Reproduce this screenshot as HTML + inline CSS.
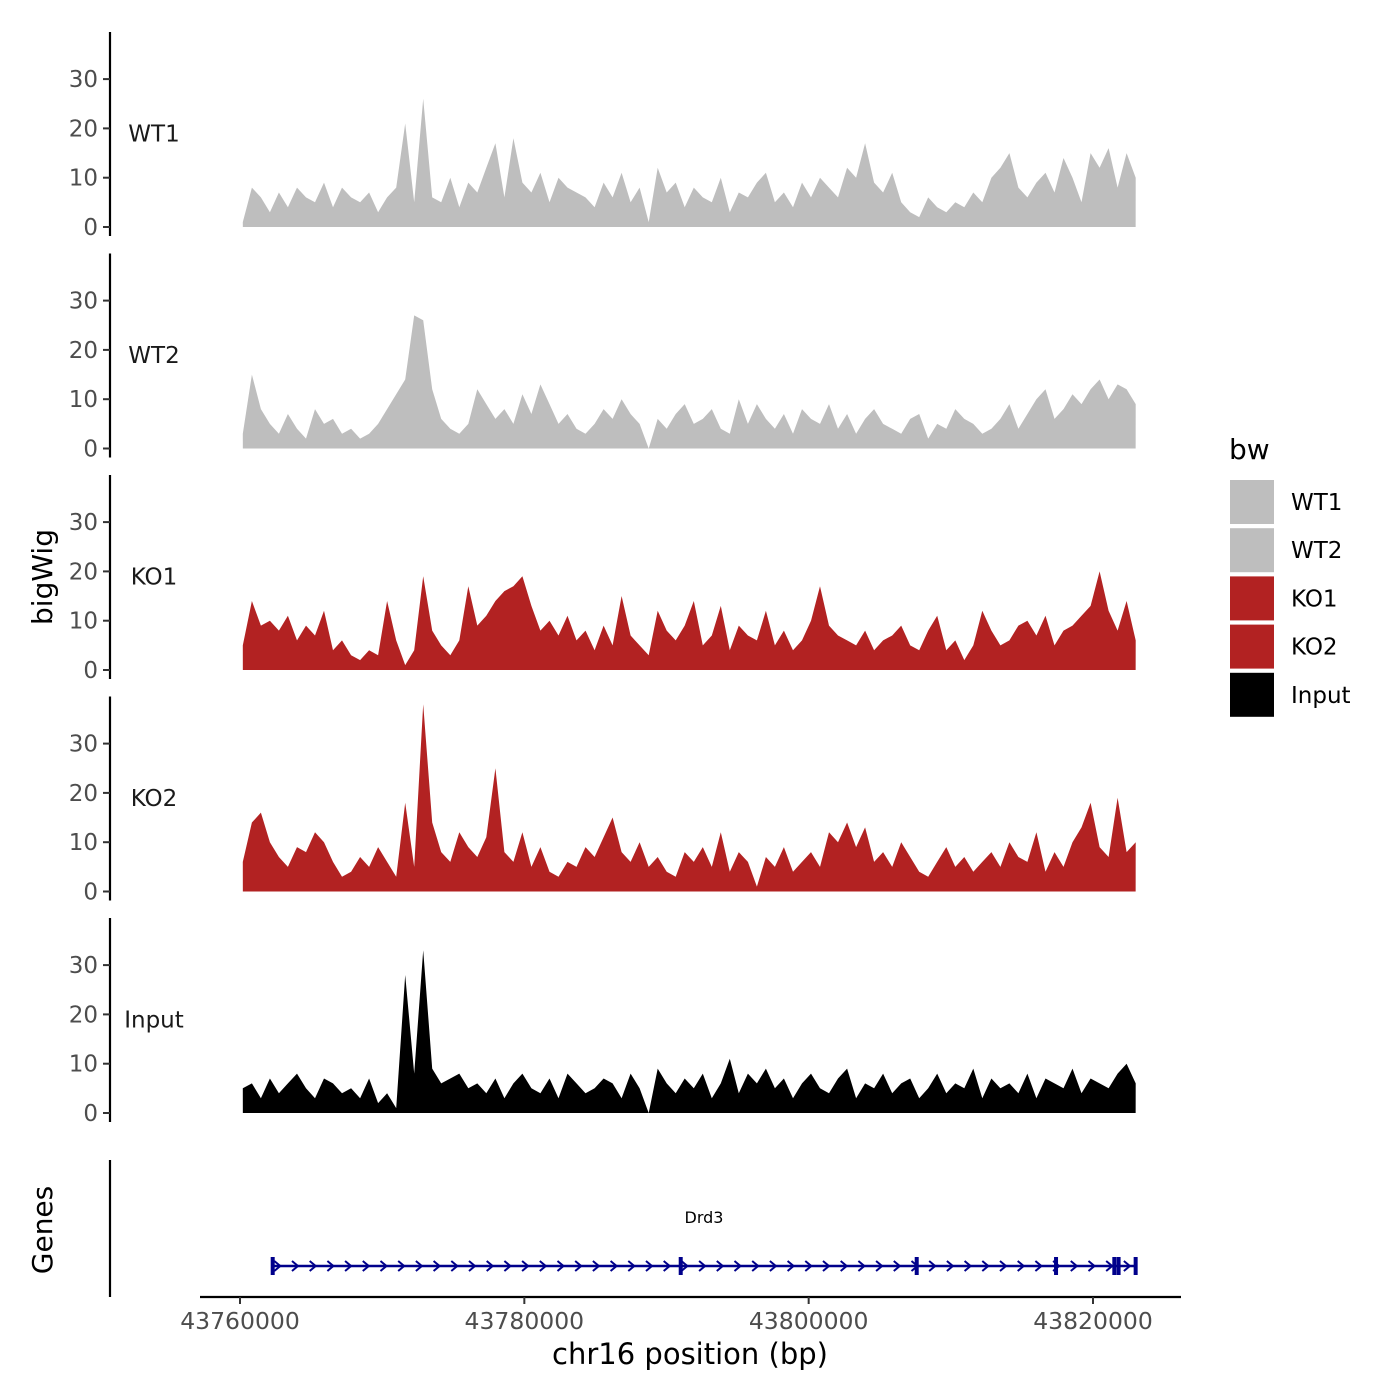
<!DOCTYPE html>
<html><head><meta charset="utf-8"><style>
body{margin:0;background:#fff}
svg{display:block;font-family:"DejaVu Sans","Liberation Sans",sans-serif}
</style></head><body>
<svg id="chart" width="1400" height="1400" viewBox="0 0 1400 1400" xmlns="http://www.w3.org/2000/svg">
<rect width="1400" height="1400" fill="#fff"/>
<g id="panels"></g>
<g id="genes"></g>
<g id="xaxis"></g>
<g id="legend"></g>
</svg>
<script>
const NS="http://www.w3.org/2000/svg";
const panelNames=["WT1","WT2","KO1","KO2","Input"];
const panelColors=["#bebebe","#bebebe","#b22222","#b22222","#000000"];
const startBp=43760200, endBp=43823000;
const yTicks=[0,10,20,30];
const xTicks=[43760000,43780000,43800000,43820000];
const wt1=[1,8,6,3,7,4,8,6,5,9,4,8,6,5,7,3,6,8,21,5,26,6,5,10,4,9,7,12,17,6,18,9,7,11,5,10,8,7,6,4,9,6,11,5,8,1,12,7,9,4,8,6,5,10,3,7,6,9,11,5,7,4,9,6,10,8,6,12,10,17,9,7,11,5,3,2,6,4,3,5,4,7,5,10,12,15,8,6,9,11,7,14,10,5,15,12,16,8,15,10];
const wt2=[3,15,8,5,3,7,4,2,8,5,6,3,4,2,3,5,8,11,14,27,26,12,6,4,3,5,12,9,6,8,5,11,7,13,9,5,7,4,3,5,8,6,10,7,5,0,6,4,7,9,5,6,8,4,3,10,5,9,6,4,7,3,8,6,5,9,4,7,3,6,8,5,4,3,6,7,2,5,4,8,6,5,3,4,6,9,4,7,10,12,6,8,11,9,12,14,10,13,12,9];
const ko1=[5,14,9,10,8,11,6,9,7,12,4,6,3,2,4,3,14,6,1,4,19,8,5,3,6,17,9,11,14,16,17,19,13,8,10,7,11,6,8,4,9,5,15,7,5,3,12,8,6,9,14,5,7,13,4,9,7,6,12,5,8,4,6,10,17,9,7,6,5,8,4,6,7,9,5,4,8,11,4,6,2,5,12,8,5,6,9,10,7,11,5,8,9,11,13,20,12,8,14,6];
const ko2=[6,14,16,10,7,5,9,8,12,10,6,3,4,7,5,9,6,3,18,5,38,14,8,6,12,9,7,11,25,8,6,12,5,9,4,3,6,5,9,7,11,15,8,6,10,5,7,4,3,8,6,9,5,12,4,8,6,1,7,5,9,4,6,8,5,12,10,14,9,13,6,8,5,10,7,4,3,6,9,5,7,4,6,8,5,10,7,6,12,4,8,5,10,13,18,9,7,19,8,10];
const input=[5,6,3,7,4,6,8,5,3,7,6,4,5,3,7,2,4,1,28,8,33,9,6,7,8,5,6,4,7,3,6,8,5,4,7,3,8,6,4,5,7,6,3,8,5,0,9,6,4,7,5,8,3,6,11,4,8,6,9,5,7,3,6,8,5,4,7,9,3,6,5,8,4,6,7,3,5,8,4,6,5,9,3,7,5,6,4,8,3,7,6,5,9,4,7,6,5,8,10,6];
const series=[wt1,wt2,ko1,ko2,input];
const geneStart=43762200, geneEnd=43823000;
const exons=[43762300,43791000,43807600,43817400,43821500,43821800,43823000];

function xs(bp){return 240+(bp-43760000)*(853/60000);}
function ys(p,v){return 227+p*221.5-v*4.93;}
function el(t,a,parent){const e=document.createElementNS(NS,t);for(const k in a)e.setAttribute(k,a[k]);parent.appendChild(e);return e;}

const P=document.getElementById('panels');
series.forEach((s,p)=>{
  const g=el('g',{},P);
  
  
  const ax=el('line',{x1:110,x2:110,y1:32+p*221.5,y2:236+p*221.5,stroke:'#000','stroke-width':2.2},g);
  
  
  yTicks.forEach(t=>{
    const y=ys(p,t);
    el('line',{x1:103,x2:110,y1:y,y2:y,stroke:'#333','stroke-width':2},g);
    const tx=el('text',{x:98,y:y+8,'text-anchor':'end','font-size':23,fill:'#4d4d4d'},g);
    tx.textContent=t;
    
    
  });
  const lab=el('text',{x:154,y:ys(p,20)+13,'text-anchor':'middle','font-size':23,fill:'#1a1a1a'},g);
  lab.textContent=panelNames[p];
  
  
  const n=s.length;
  let d='M'+xs(startBp)+','+ys(p,0);
  s.forEach((v,i)=>{const bp=startBp+(endBp-startBp)*i/(n-1);d+=' L'+xs(bp).toFixed(1)+','+ys(p,v).toFixed(1);});
  d+=' L'+xs(endBp)+','+ys(p,0)+' Z';
  const area=el('path',{d:d,fill:panelColors[p]},g);
  
  
});
const yt=el('text',{x:0,y:0,'font-size':28,transform:'translate(52,577) rotate(-90)','text-anchor':'middle',fill:'#000'},P);
yt.textContent='bigWig';



const G=document.getElementById('genes');
const ga=el('line',{x1:110,x2:110,y1:1160,y2:1297,stroke:'#000','stroke-width':2.2},G);

const gt=el('text',{x:0,y:0,'font-size':28,transform:'translate(52,1230) rotate(-90)','text-anchor':'middle',fill:'#000'},G);
gt.textContent='Genes';
const gl=el('line',{x1:xs(geneStart),x2:xs(geneEnd),y1:1266,y2:1266,stroke:'#00008b','stroke-width':2.5},G);

for(let x=xs(geneStart)+6;x<xs(geneEnd);x+=17.7){
  el('path',{d:`M${x-3},${1261} L${x+3},${1266} L${x-3},${1271}`,stroke:'#00008b','stroke-width':2,fill:'none'},G);
}
exons.forEach(b=>{const x=xs(b);const e=el('rect',{x:x-2,y:1257,width:4,height:18,fill:'#00008b'},G);
  });
const gn=el('text',{x:704,y:1223,'text-anchor':'middle','font-size':16,fill:'#000'},G);
gn.textContent='Drd3';

const X=document.getElementById('xaxis');
const xl=el('line',{x1:200,x2:1181,y1:1297,y2:1297,stroke:'#000','stroke-width':2.2},X);

xTicks.forEach(t=>{const x=xs(t);el('line',{x1:x,x2:x,y1:1297,y2:1304,stroke:'#333','stroke-width':2},X);
  const tx=el('text',{x:x,y:1329,'text-anchor':'middle','font-size':23.5,fill:'#4d4d4d'},X);tx.textContent=t;
  });
const xt=el('text',{x:690,y:1364,'text-anchor':'middle','font-size':29,fill:'#000'},X);
xt.textContent='chr16 position (bp)';

const L=document.getElementById('legend');
const lt=el('text',{x:1229,y:459,'font-size':28,fill:'#000'},L);
lt.textContent='bw';
panelNames.forEach((nm,i)=>{const y=480+i*48.2;
  const r=el('rect',{x:1230,y:y,width:44,height:44,fill:panelColors[i]},L);
  
  const t=el('text',{x:1291,y:y+30,'font-size':23,fill:'#000'},L);t.textContent=nm;
  });
</script>
</body></html>
